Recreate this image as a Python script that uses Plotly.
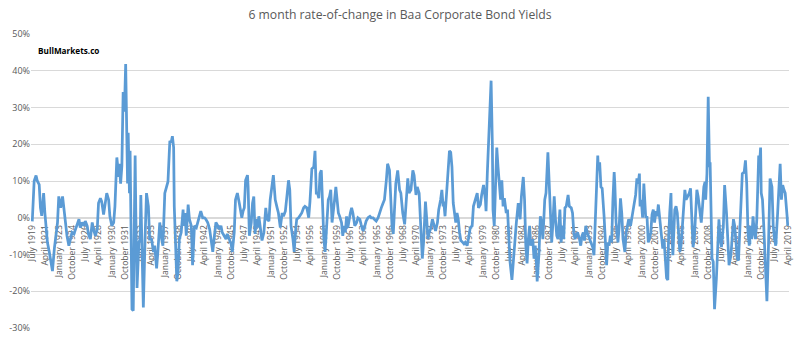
import plotly.graph_objects as go

# (months since July 1919, 6-month rate of change in %)
era_1919_1945 = [
    (0, -1), (1, 3), (3, 10), (6, 11.5), (8, 10), (11, 9), (13, 2.7), (15, 0.5), (18, 6.7), (20, 1.3),
    (21, -1.3), (24, -6.7), (27, -9.3), (29, -11), (32, -14.5), (35, -8.4), (37, -5.8), (40, -1.3), (42, 5.8), (45, 2.7),
    (48, 5.8), (50, 2.7), (53, -1.3), (55, -4.9), (58, -7.6), (61, -5.8), (63, -4), (66, -4.4), (69, -3.1), (71, -2.2),
    (74, -0.4), (76, -2.7), (79, -1.3), (82, -2.2), (84, -0.9), (87, -2.2), (89, -4.4), (92, -5.8), (95, -1.3), (97, -3.1),
    (100, -4.9), (103, -3.1), (105, 4), (108, 5.3), (110, 4.4), (113, 0.9), (116, 4.9), (118, 6.7), (121, 4.9), (123, 0.4),
    (126, -2.2), (129, -1.3), (131, 3.1), (134, 16.4), (137, 11.1), (138, 14.7), (140, 9.3), (142, 14.2), (144, 34.2), (146, 28.9),
    (148, 41.8), (149, 24.4), (151, 9.3), (152, 23.1), (154, 6.7), (155, 18.2), (157, -11), (158, -24.9), (160, -25.3), (161, -4),
    (163, 16.9), (164, 2.2), (166, -19.1), (169, -6.7), (171, -5.8), (172, 6.2), (174, -14.7), (176, -24.4), (179, -4), (181, 6.7),
    (184, 3.1), (186, -5.8), (189, -5.8), (192, -9.3), (194, -7.6), (197, -13.8), (199, -9.3), (202, -1.3), (205, -5.8), (207, -7.6),
    (210, 6.7), (213, 8.4), (215, 9.8), (217, 17.3), (218, 20.9), (220, 20.4), (222, 22.2), (224, 19.1), (225, 3.1), (227, -6.7),
    (229, -17.3), (231, -14.7), (233, -5.8), (236, -4), (239, 2.2), (240, -2.2), (242, 1.3), (244, -4.9), (247, 3.6), (249, -0.4),
    (252, -2.2), (254, -12.9), (257, -2.2), (260, -2.7), (262, -1.3), (265, 0), (267, 1.8), (270, 0), (273, 0), (275, -0.4),
    (278, -1.3), (281, -3.1), (283, -6.2), (286, -9.3), (288, -5.8), (291, -1.3), (294, -2.2), (296, -3.1), (299, -2.2), (301, -4),
    (304, -4.9), (307, -5.8), (309, -4.4),
]
era_1945_1970 = [
    (312, -5.8), (315, -7.1), (317, -9.3), (320, -4), (322, 4.9), (325, 6.7), (328, 4), (330, 2.2), (332, 0), (334, 1.8),
    (336, 2.7), (338, 10.2), (341, 11.6), (342, 8.4), (344, -4.9), (347, -1.3), (349, 4), (351, 5.8), (353, -4.4), (355, -0.4),
    (357, -2.7), (359, 0.4), (362, -4), (364, -6.2), (367, -4), (370, 2.7), (372, -0.4), (375, -0.9), (377, 4.9), (380, 8.4),
    (382, 11.6), (383, 9.3), (385, 4.9), (388, 2.7), (390, 1.3), (393, -2.7), (396, 1.3), (398, 0.4), (401, 1.8), (404, 6.7),
    (406, 10.2), (408, 7.6), (410, -2.2), (413, -5.8), (415, -9.3), (417, -4), (419, -0.4), (422, 0), (425, 0.9), (427, 1.3),
    (430, 2.7), (432, 3.1), (435, 2.7), (438, 0), (440, 4.4), (443, 13.3), (446, 13.8), (448, 18.2), (450, 6.7), (452, 6.7),
    (454, 5.3), (456, 12), (458, 12.9), (460, 1.3), (462, -5.8), (464, -9.3), (467, -0.4), (469, 4.9), (471, 5.8), (473, 7.6),
    (475, -1.3), (477, 3.1), (479, 4.9), (481, 8.4), (483, 4.9), (485, 1.3), (487, 0.4), (490, -1.3), (492, -4.9), (494, -2.2),
    (496, -4), (498, 0.4), (500, -2.7), (502, -0.4), (504, 1.3), (506, 2.7), (508, 1.3), (511, -2.2), (514, -1.3), (516, 0),
    (519, -0.4), (521, -1.8), (524, -3.6), (527, -2.2), (529, -0.9), (532, 0), (535, 0.4), (537, 0), (540, 0), (542, -0.4),
    (545, -0.9), (548, 0), (550, 1.3), (553, 2.7), (555, 3.6), (558, 4.9), (561, 10.2), (563, 14.7), (566, 12.9), (568, 4.9),
    (570, -2.2), (572, -4.4), (574, 1.3), (576, 9.3), (579, 12.9), (582, 7.6), (584, 6.7), (587, 1.3), (590, -1.8), (592, 4),
    (595, 10.7), (597, 6.7), (600, 7.6), (603, 12.9), (605, 11.6), (608, 6.2),
]
era_1970_1994 = [
    (610, 8.4), (613, 6.7), (616, -4), (618, -11.1), (620, -6.7), (622, 1.3), (623, 4.4), (625, -0.4), (627, -5.8), (629, -4),
    (631, -3.1), (634, -0.4), (637, -2.2), (639, -3.6), (642, -1.3), (644, 2.2), (647, 4.9), (649, 7.6), (651, 3.1), (652, 4.4),
    (654, 0.4), (656, 5.8), (659, 12), (661, 18.2), (663, 17.8), (665, 13.8), (667, 4), (669, 0.9), (671, -1.3), (673, 1.3),
    (675, -0.4), (677, -4), (679, -6.2), (682, -6.7), (684, -7.1), (686, -6.7), (689, -7.6), (691, -5.8), (694, -2.7), (697, -2.2),
    (699, 3.1), (702, 4.9), (705, 6.7), (707, 2.7), (710, 3.6), (712, 6.2), (715, 8.9), (718, 4.9), (719, 1.8), (721, 12),
    (723, 20), (725, 28), (727, 37.3), (729, 20), (730, 2.2), (732, -2.2), (734, 10.2), (736, 19.1), (738, 13.8), (740, 8.4),
    (742, 4.9), (744, 10.2), (746, 3.1), (748, 5.3), (751, 1.3), (753, 2.2), (755, -5.8), (757, -12), (760, -16.9), (762, -11.1),
    (765, -5.8), (767, -1.3), (770, 4), (773, -0.4), (775, 5.8), (778, 11.1), (780, 4.9), (782, -7.6), (784, -12.4), (786, -5.8),
    (788, -2.2), (790, -7.6), (793, -5.8), (795, -11.1), (797, -7.6), (799, -12.9), (800, -17.3), (803, -9.3), (805, 0.4), (807, -1.3),
    (809, -5.8), (812, 4.9), (814, 6.7), (817, 17.8), (819, 7.6), (821, -2.2), (823, -6.7), (825, -1.3), (827, 5.8), (829, -0.4),
    (831, -4.9), (833, -5.8), (836, 2.2), (838, -6.7), (840, -2.2), (842, -5.8), (844, 2.7), (846, 3.1), (849, 6.2), (851, 3.1),
    (854, 2.7), (856, 1.3), (858, -4), (860, -5.8), (862, -4.9), (864, -4), (867, -5.8), (869, -7.6), (871, -4.9), (873, -4),
    (875, -6.2), (877, -2.2), (880, -4.4), (883, -5.8), (885, -6.7), (888, -8), (890, -10.2), (893, 1.3),
]
era_1994_2019 = [
    (896, 16.9), (897, 12.9), (899, 15.1), (901, 8.4), (903, 8), (906, 0.4), (908, -6.7), (910, -12.9), (912, -6.7), (914, -7.6),
    (916, -4.9), (918, -6.7), (920, 4.9), (922, 12.4), (923, 9.3), (925, -1.3), (928, -6.7), (930, -2.2), (932, 5.3), (934, 1.3),
    (936, -5.8), (939, -9.3), (941, -4), (943, -2.2), (945, -0.4), (948, -2.2), (951, 0.4), (953, 3.1), (956, 6.2), (958, 10.7),
    (960, 9.3), (962, 12), (963, 3.1), (965, 4.9), (967, 0), (969, 9.3), (972, 0), (974, 0.4), (976, -6.7), (978, -5.8),
    (980, -4), (982, 0.9), (984, 2.2), (986, -1.3), (988, 1.8), (990, 0.4), (992, 3.6), (995, -2.2), (997, -5.8), (999, -8.4),
    (1001, -5.8), (1003, -11.1), (1005, -16.4), (1007, -16.9), (1008, -6.7), (1010, 1.3), (1012, 6.7), (1013, -2.2), (1015, -10.2), (1018, 2.2),
    (1020, 3.1), (1022, 1.3), (1024, -5.8), (1026, -9.3), (1028, -7.6), (1030, -2.2), (1032, 2.2), (1034, 7.6), (1036, 4.9), (1039, 5.8),
    (1041, 6.7), (1043, 8), (1045, -0.4), (1047, -8), (1049, -5.8), (1051, 1.3), (1053, 7.6), (1055, 5.8), (1057, 3.1), (1060, -1.3),
    (1062, 3.1), (1064, 8.4), (1066, 9.8), (1067, 4.9), (1069, 12), (1071, 32.9), (1073, 13.8), (1074, 15.1), (1076, -2.2), (1077, -11.1),
    (1079, -12), (1081, -24.9), (1084, -16.4), (1086, -6.7), (1088, -0.4), (1090, -5.8), (1092, -8), (1095, -2.2), (1097, 8.9), (1100, 1.3),
    (1102, -5.8), (1104, -12.9), (1107, -10.2), (1109, -5.8), (1111, -0.4), (1113, -2.2), (1115, -5.8), (1117, -11.1), (1119, -11.6), (1121, -3.1),
    (1123, 4.9), (1125, 12), (1128, 12.4), (1130, 15.6), (1132, 9.3), (1134, -4), (1136, -7.6), (1138, -2.2), (1140, -5.8), (1142, 0.4),
    (1144, -4), (1146, -5.8), (1148, -0.4), (1151, 16.9), (1152, 13.8), (1154, 19.1), (1155, 6.7), (1157, 4.9), (1159, -2.2), (1162, -12.9),
    (1164, -22.7), (1166, -11.1), (1168, 4.9), (1169, 10.7), (1172, 8.4), (1174, -2.2), (1176, -5.8), (1178, -7.6), (1181, 1.3), (1183, 8.4),
    (1185, 14.7), (1187, 4.9), (1189, 8.9), (1191, 7.6), (1193, 6.7), (1196, 0.4), (1197, -2.2),
]

x_tick_labels = [
    "July 1919", "April 1921", "January 1923", "October 1924", "July 1926", "April 1928", "January 1930",
    "October 1931", "July 1933", "April 1935", "January 1937", "October 1938", "July 1940", "April 1942",
    "January 1944", "October 1945", "July 1947", "April 1949", "January 1951", "October 1952", "July 1954",
    "April 1956", "January 1958", "October 1959", "July 1961", "April 1963", "January 1965", "October 1966",
    "July 1968", "April 1970", "January 1972", "October 1973", "July 1975", "April 1977", "January 1979",
    "October 1980", "July 1982", "April 1984", "January 1986", "October 1987", "July 1989", "April 1991",
    "January 1993", "October 1994", "July 1996", "April 1998", "January 2000", "October 2001", "July 2003",
    "April 2005", "January 2007", "October 2008", "July 2010", "April 2012", "January 2014", "October 2015",
    "July 2017", "April 2019",
]
x_tick_step_months = 21
y_tick_values = [-30, -20, -10, 0, 10, 20, 30, 40, 50]
y_tick_labels = ["-30%", "-20%", "-10%", "0%", "10%", "20%", "30%", "40%", "50%"]

points = era_1919_1945 + era_1945_1970 + era_1970_1994 + era_1994_2019
months = [p[0] for p in points]
roc = [p[1] for p in points]
tick_positions = [i * x_tick_step_months for i in range(len(x_tick_labels))]

grey = "#595959"
fig = go.Figure()
fig.add_trace(go.Scatter(x=months, y=roc, mode="lines",
                         line=dict(color="#5B9BD5", width=2.75), hoverinfo="skip"))

fig.update_layout(
    width=800, height=340,
    margin=dict(l=31, r=6, t=34, b=7),
    paper_bgcolor="white", plot_bgcolor="white",
    showlegend=False,
    font=dict(family="Open Sans, Liberation Sans, sans-serif", color=grey),
    title=dict(text="6 month rate-of-change in Baa Corporate Bond Yields",
               x=0.5, xref="container", xanchor="center",
               y=1 - 15 / 340, yref="container", yanchor="middle",
               font=dict(size=12.2, color=grey)),
    xaxis=dict(range=[-2, 1199], tickvals=tick_positions, ticktext=x_tick_labels,
               tickangle=-90, tickfont=dict(size=8.6, color=grey),
               anchor="free", position=0.375, showgrid=False, zeroline=False,
               showline=True, linecolor="#d9d9d9", linewidth=1, ticks="",
               ticklabelstandoff=3,
               layer="below traces", fixedrange=True),
    yaxis=dict(range=[-30, 50], tickvals=y_tick_values, ticktext=y_tick_labels,
               tickfont=dict(size=9, color=grey), showgrid=True, gridcolor="#d9d9d9",
               zeroline=False, showline=False, ticks="", fixedrange=True),
    annotations=[dict(text="<b>BullMarkets.co</b>", xref="paper", yref="paper",
                      x=0.006, y=(333 - 51) / 299, xanchor="left", yanchor="middle",
                      showarrow=False, font=dict(size=8.2, color="black"))],
)

fig.write_html("out.html")
